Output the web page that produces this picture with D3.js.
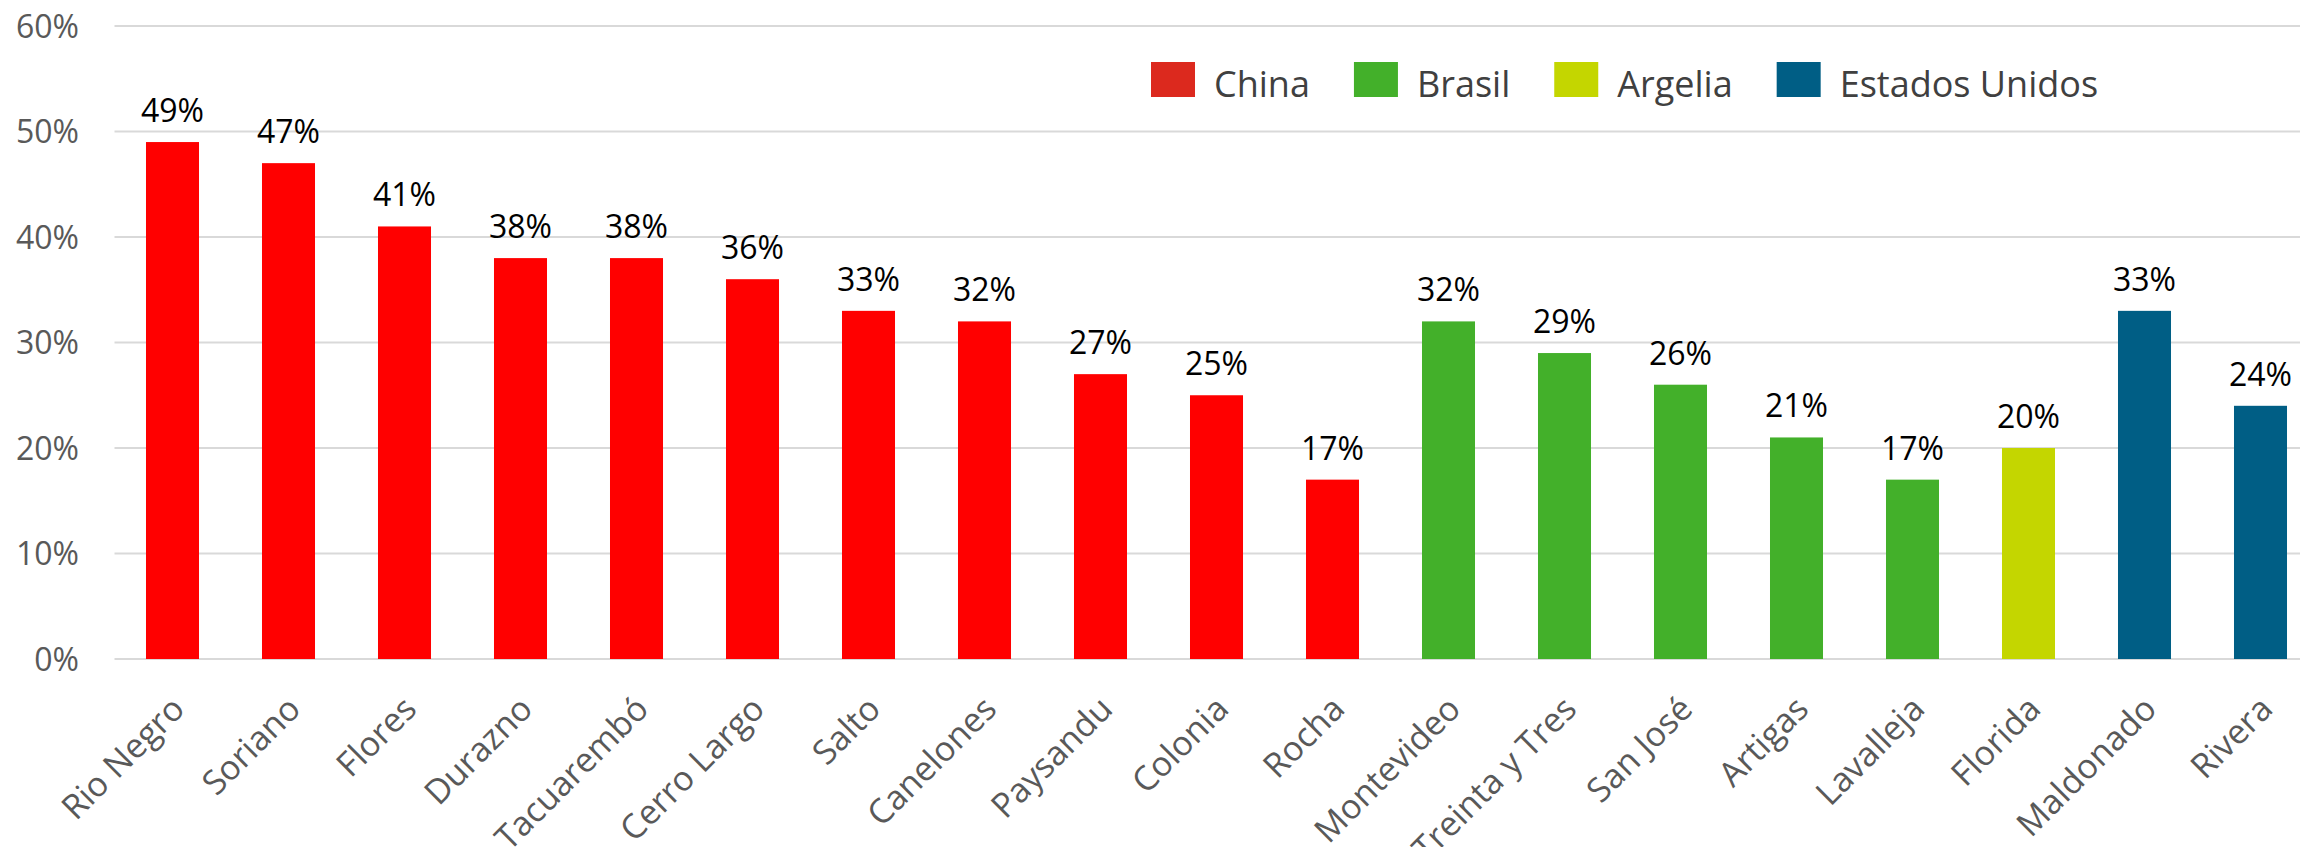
<!DOCTYPE html>
<html>
<head>
<meta charset="utf-8">
<script src="https://d3js.org/d3.v7.min.js"></script>
<style>
  body { margin: 0; background: #fff; }
  svg { display: block; overflow: hidden; }
</style>
</head>
<body>
<svg class="chart"></svg>
<script>
// Data
var departments = ["Rio Negro", "Soriano", "Flores", "Durazno", "Tacuarembó", "Cerro Largo", "Salto",
  "Canelones", "Paysandu", "Colonia", "Rocha", "Montevideo", "Treinta y Tres", "San José",
  "Artigas", "Lavalleja", "Florida", "Maldonado", "Rivera"];
var values = [0.49, 0.47, 0.41, 0.38, 0.38, 0.36, 0.33, 0.32, 0.27, 0.25, 0.17,
  0.32, 0.29, 0.26, 0.21, 0.17, 0.20, 0.33, 0.24];
var partner = ["China", "China", "China", "China", "China", "China", "China", "China", "China", "China", "China",
  "Brasil", "Brasil", "Brasil", "Brasil", "Brasil", "Argelia", "Estados Unidos", "Estados Unidos"];
var partners = ["China", "Brasil", "Argelia", "Estados Unidos"];
var yTicks = [0, 0.1, 0.2, 0.3, 0.4, 0.5, 0.6];

var barColors = { "China": "#ff0000", "Brasil": "#43b02a", "Argelia": "#c4d600", "Estados Unidos": "#005e85" };
var legendColors = { "China": "#dc291e", "Brasil": "#43b02a", "Argelia": "#c4d600", "Estados Unidos": "#005e85" };

// Width and height
var width = 2300, height = 847;
var plotLeft = 114.5, plotRight = 2318.5, plotTop = 26, plotBottom = 659;

var svg = d3.select(".chart")
  .attr("width", width)
  .attr("height", height);

// Scales
var x = d3.scaleBand()
  .domain(departments)
  .range([plotLeft, plotRight])
  .paddingInner(0.543)
  .paddingOuter(0.2715);

var y = d3.scaleLinear()
  .domain([0, 0.6])
  .range([plotBottom, plotTop]);

// Gridlines
svg.append("g")
  .selectAll("line")
  .data(yTicks)
  .enter()
  .append("line")
  .attr("x1", plotLeft)
  .attr("x2", width)
  .attr("y1", function (d) { return y(d); })
  .attr("y2", function (d) { return y(d); })
  .attr("stroke", "#d9d9d9")
  .attr("stroke-width", 2);

// Y axis labels
svg.append("g")
  .selectAll("text")
  .data(yTicks)
  .enter()
  .append("text")
  .attr("x", 79)
  .attr("y", function (d) { return y(d); })
  .attr("dy", "0.36em")
  .attr("text-anchor", "end")
  .style("font-family", "'Open Sans'")
  .style("font-size", "32px")
  .style("fill", "#595959")
  .text(d3.format(".0%"));

// Bars
svg.append("g")
  .selectAll("rect")
  .data(departments)
  .enter()
  .append("rect")
  .attr("x", function (d) { return x(d); })
  .attr("width", x.bandwidth())
  .attr("y", function (d, i) { return y(values[i]); })
  .attr("height", function (d, i) { return plotBottom - y(values[i]); })
  .attr("fill", function (d, i) { return barColors[partner[i]]; });

// Value labels
svg.append("g")
  .selectAll("text")
  .data(departments)
  .enter()
  .append("text")
  .attr("x", function (d) { return x(d) + x.bandwidth() / 2; })
  .attr("y", function (d, i) { return y(values[i]) - 20; })
  .attr("text-anchor", "middle")
  .style("font-family", "'Open Sans'")
  .style("font-size", "32px")
  .style("fill", "#000")
  .text(function (d, i) { return d3.format(".0%")(values[i]); });

// X axis labels, rotated
svg.append("g")
  .selectAll("text")
  .data(departments)
  .enter()
  .append("text")
  .attr("transform", function (d) {
    var cx = x(d) + x.bandwidth() / 2 + 14;
    return "translate(" + cx + "," + (plotBottom + 52) + ") rotate(-45)";
  })
  .attr("text-anchor", "end")
  .style("font-family", "'Open Sans'")
  .style("font-size", "34px")
  .style("fill", "#595959")
  .text(function (d) { return d; });

// Legend
var legend = svg.append("g");
var lx = 1151;
partners.forEach(function (p) {
  legend.append("rect")
    .attr("x", lx)
    .attr("y", 62)
    .attr("width", 44)
    .attr("height", 35)
    .attr("fill", legendColors[p]);
  var t = legend.append("text")
    .attr("x", lx + 44 + 19)
    .attr("y", 97)
    .style("font-family", "'Open Sans'")
    .style("font-size", "36px")
    .style("fill", "#404040")
    .text(p);
  lx = lx + 44 + 19 + t.node().getComputedTextLength() + 44;
});
</script>
</body>
</html>
